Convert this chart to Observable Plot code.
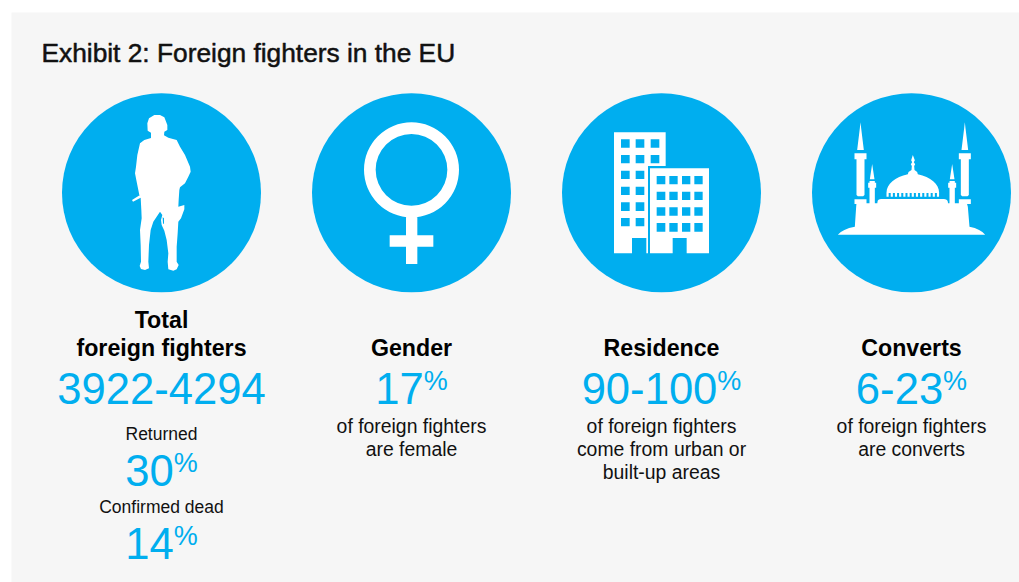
<!DOCTYPE html>
<html lang="en">
<head>
<meta charset="utf-8">
<title>Foreign fighters in the EU</title>
<style>
  html, body { margin: 0; padding: 0; background: #fff; }
  svg { display: block; }
</style>
<script src="https://cdn.jsdelivr.net/npm/d3@7"></script>
<script src="https://cdn.jsdelivr.net/npm/@observablehq/plot@0.6"></script>
</head>
<body>
<div id="chart"></div>
<script>
// Figures shown on the panel
const title = "Exhibit 2: Foreign fighters in the EU";
const categories = ["Total", "Gender", "Residence", "Converts"];
const headings = ["Total\nforeign fighters", "Gender", "Residence", "Converts"];
const headlineValues = ["3922-4294", "17", "90-100", "6-23"];
const headlineUnits = ["", "%", "%", "%"];
const descriptions = [
  "",
  "of foreign fighters\nare female",
  "of foreign fighters\ncome from urban or\nbuilt-up areas",
  "of foreign fighters\nare converts"
];
const totalBreakdownLabels = ["Returned", "Confirmed dead"];
const totalBreakdownValues = ["30", "14"];

// Shared styling
const BLUE = "#00aeef";
const INK = "#111111";
const FONT = "'Liberation Sans', Arial, sans-serif";
const NUMBER_SIZE = 43.6;
const PERCENT_SIZE = 27;

// Icon outlines are traced on a grid of 1/3 px around the middle of each disc.
function tracer(context, cx, cy) {
  const X = (x) => (x - cx) / 3;
  const Y = (y) => (y - cy) / 3;
  return {
    poly(points, hole = false) {
      const pts = hole ? [...points].reverse() : points;
      pts.forEach(([x, y], i) => (i ? context.lineTo(X(x), Y(y)) : context.moveTo(X(x), Y(y))));
      context.closePath();
    },
    box(x1, y1, x2, y2, hole = false) {
      this.poly([[x1, y1], [x2, y1], [x2, y2], [x1, y2]], hole);
    },
    ring(x, y, r, hole = false) {
      context.moveTo(X(x) + r / 3, Y(y));
      context.arc(X(x), Y(y), r / 3, 0, 2 * Math.PI, hole);
      context.closePath();
    },
    start: (x, y) => context.moveTo(X(x), Y(y)),
    line: (x, y) => context.lineTo(X(x), Y(y)),
    quad: (a, b, x, y) => context.quadraticCurveTo(X(a), Y(b), X(x), Y(y)),
    cubic: (a, b, c, d, x, y) => context.bezierCurveTo(X(a), Y(b), X(c), Y(d), X(x), Y(y)),
    end: () => context.closePath()
  };
}

const soldierIcon = {
  draw(context) {
    const t = tracer(context, 334.5, 323.5);
    t.poly([
      [313, 90], [330, 90], [343, 97], [352, 120], [352, 135], [343, 140], [342, 151], [355, 158],
      [380, 165], [390, 185], [405, 210], [420, 245], [422, 260], [415, 275], [405, 295], [390, 307],
      [388, 315], [386, 345], [385, 365], [403, 360], [403, 373], [393, 400], [385, 410], [383, 445],
      [380, 485], [380, 530], [386, 540], [380, 553], [370, 557], [355, 553], [353, 530], [355, 505],
      [350, 465], [343, 437], [335, 420], [333, 405], [337, 390], [330, 380], [320, 395], [310, 410],
      [302, 435], [297, 480], [295, 530], [297, 550], [285, 555], [273, 552], [269, 543], [273, 530],
      [272, 480], [270, 435], [275, 400], [274, 375], [272, 338], [249, 350], [246, 345], [270, 330],
      [268, 330], [260, 290], [255, 265], [258, 245], [262, 210], [270, 175], [283, 165], [303, 159],
      [303, 143], [293, 137], [292, 115], [297, 100]
    ]);
    // Gap between the leg and the strap of the holster
    t.poly([[338, 397], [342, 400], [342, 418], [339, 415]], true);
  }
};

const venusIcon = {
  draw(context) {
    const t = tracer(context, 335.5, 323.5);
    t.ring(335.5, 254.5, 142.5);
    t.ring(335.5, 254.5, 107.5, true);
    t.box(319, 394, 353, 537);
    t.box(270, 451, 401, 485);
  }
};

const buildingsIcon = {
  draw(context) {
    const t = tracer(context, 336.5, 323.5);
    // Tall block, stepped back behind its lower neighbour, with a doorway in the base
    t.poly([
      [194, 142], [349, 142], [349, 243], [296, 243], [296, 505], [291, 505], [291, 459],
      [248, 459], [248, 505], [194, 505]
    ]);
    const tallRows = [[163, 188, 3], [210, 235, 3], [257, 282, 2], [305, 330, 2], [352, 378, 2], [399, 424, 2]];
    const tallCols = [[215, 241], [259, 285], [304, 330]];
    for (const [y1, y2, n] of tallRows) {
      tallCols.slice(0, n).forEach(([x1, x2]) => t.box(x1, y1, x2, y2, true));
    }
    // Low block
    t.poly([
      [302, 250], [479, 250], [479, 505], [412, 505], [412, 459], [370, 459], [370, 505], [302, 505]
    ]);
    for (const [y1, y2] of [[273, 298], [320, 345], [367, 392], [414, 440]]) {
      for (const [x1, x2] of [[322, 348], [360, 385], [398, 423], [435, 460]]) {
        t.box(x1, y1, x2, y2, true);
      }
    }
  }
};

const mosqueIcon = {
  draw(context) {
    const t = tracer(context, 337, 323.5);
    const minaret = (mid) => {
      t.poly([[mid, 112], [mid + 2, 130], [mid + 10, 195], [mid - 10, 195], [mid - 2, 130]]);
      t.box(mid - 18, 205, mid + 18, 223);
      t.poly([[mid - 12, 223], [mid + 12, 223], [mid + 12, 330], [mid + 8, 334], [mid - 8, 334], [mid - 12, 330]]);
      t.box(mid - 18, 343, mid + 18, 357);
    };
    const turret = (mid) => {
      t.poly([[mid, 237], [mid + 7, 283], [mid - 7, 283]]);
      t.box(mid - 12, 293, mid + 12, 308);
      t.box(mid - 8, 288, mid + 8, 293);
      t.box(mid - 8, 308, mid + 8, 368);
    };
    minaret(184);
    minaret(497);
    turret(219);
    turret(459);
    // Platform and flared foot
    t.start(172, 355);
    t.line(503, 355);
    t.line(506, 365);
    t.line(511, 425);
    t.quad(545, 432, 558, 449);
    t.line(116, 449);
    t.quad(130, 432, 167, 425);
    t.line(171, 365);
    t.end();
    // Prayer hall
    t.start(233, 366);
    t.line(235, 350);
    t.quad(236, 342, 246, 342);
    t.line(434, 342);
    t.quad(444, 342, 446, 350);
    t.line(448, 366);
    t.end();
    // Dome with its lantern and finial
    t.start(262, 324);
    t.cubic(262, 296, 288, 277, 326, 268);
    t.line(328, 261);
    t.line(337, 255);
    t.line(338, 243);
    t.line(335, 238);
    t.line(339, 232);
    t.line(336, 226);
    t.line(341, 210);
    t.line(347, 226);
    t.line(344, 232);
    t.line(348, 238);
    t.line(345, 243);
    t.line(346, 255);
    t.line(354, 261);
    t.line(356, 268);
    t.cubic(394, 277, 420, 296, 420, 324);
    t.end();
    // Small arcade below the dome
    for (let x = 262; x < 418; x += 12.6) t.box(x, 322, x + 6.5, 335);
  }
};

const icons = [soldierIcon, venusIcon, buildingsIcon, mosqueIcon];

// Width of a string in the chart font, used to centre a figure and its raised percent sign together.
const measure = document.createElement("canvas").getContext("2d");
function textWidth(text, size) {
  measure.font = `${size}px 'Liberation Sans', Arial, sans-serif`;
  return measure.measureText(text).width;
}

// A large figure with an optional raised unit, centred as one on its column.
function figure(category, value, unit, baseline) {
  const numberWidth = textWidth(value, NUMBER_SIZE);
  const unitWidth = unit ? textWidth(unit, PERCENT_SIZE) : 0;
  const left = -(numberWidth + unitWidth) / 2;
  const marks = [
    Plot.text([value], {
      x: () => category, y: () => baseline, text: (d) => d,
      textAnchor: "start", lineAnchor: "bottom", dx: left,
      fontSize: NUMBER_SIZE, fontFamily: FONT, fill: BLUE
    })
  ];
  if (unit) {
    marks.push(Plot.text([unit], {
      x: () => category, y: () => baseline - 14, text: (d) => d,
      textAnchor: "start", lineAnchor: "bottom", dx: left + numberWidth,
      fontSize: PERCENT_SIZE, fontFamily: FONT, fill: BLUE
    }));
  }
  return marks;
}

const chart = Plot.plot({
  width: 1019,
  height: 582,
  marginTop: 12,
  marginLeft: 11,
  marginRight: 0,
  marginBottom: 0,
  x: { type: "point", domain: categories, range: [161, 911.8], padding: 0, axis: null },
  y: { type: "linear", domain: [0, 582], range: [0, 582], axis: null },
  marks: [
    Plot.frame({ fill: "#f6f6f6", stroke: "none" }),

    Plot.text([title], {
      frameAnchor: "top-left", dx: 30, dy: 49, lineAnchor: "bottom", textAnchor: "start",
      text: (d) => d, fontSize: 26.3, fontFamily: FONT, fill: INK, stroke: INK, strokeWidth: 0.5
    }),

    // Discs and the icon inside each
    Plot.dot(categories, { x: (d) => d, y: () => 192.3, r: 99.5, fill: BLUE, stroke: "none" }),
    ...icons.map((symbol, i) =>
      Plot.dot([categories[i]], { x: (d) => d, y: () => 192.3, symbol, fill: "white", stroke: "none" })
    ),

    // Column headings
    Plot.text(categories, {
      x: (d) => d, y: () => 355.5, text: (d, i) => headings[i],
      lineAnchor: "bottom", lineHeight: 1.2, textAnchor: "middle",
      fontSize: 23.2, fontWeight: "bold", fontFamily: FONT, fill: "#000"
    }),

    // Headline figures
    ...categories.flatMap((c, i) => figure(c, headlineValues[i], headlineUnits[i], 403.5)),

    // Descriptions below the figures
    Plot.text(categories, {
      x: (d) => d, y: () => 430, text: (d, i) => descriptions[i],
      lineAnchor: "top", dy: -14, lineHeight: 1.186, textAnchor: "middle",
      fontSize: 19.4, fontFamily: FONT, fill: INK
    }),

    // Breakdown of the total column
    Plot.text(totalBreakdownLabels, {
      x: () => categories[0], y: (d, i) => [439, 512][i], text: (d) => d,
      lineAnchor: "bottom", textAnchor: "middle",
      fontSize: 17.5, fontFamily: FONT, fill: INK
    }),
    ...totalBreakdownValues.flatMap((v, i) => figure(categories[0], v, "%", [485.5, 558.5][i]))
  ]
});

document.getElementById("chart").append(chart);
</script>
</body>
</html>
